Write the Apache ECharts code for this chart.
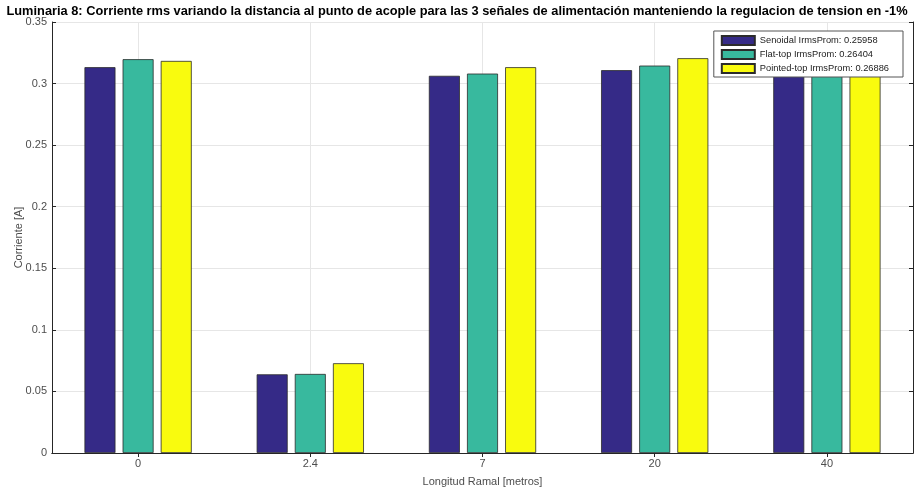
<!DOCTYPE html>
<html>
<head>
<meta charset="utf-8">
<script src="https://cdn.jsdelivr.net/npm/echarts@6/dist/echarts.min.js"></script>
<style>html,body{margin:0;padding:0;background:#fff;}#c{width:914px;height:489px;}</style>
</head>
<body>
<div id="c"></div>
<script>
const categories = ['0', '2.4', '7', '20', '40'];
const senoidal = [0.3133, 0.0639, 0.3063, 0.3109, 0.307];
const flatTop = [0.3198, 0.0642, 0.3081, 0.3146, 0.314];
const pointedTop = [0.3184, 0.0729, 0.3133, 0.3206, 0.319];
const seriesNames = ['Senoidal IrmsProm: 0.25958', 'Flat-top IrmsProm: 0.26404', 'Pointed-top IrmsProm: 0.26886'];
const colors = ['#352a87', '#38b99e', '#f9fb0e'];
const titleText = 'Luminaria 8: Corriente rms variando la distancia al punto de acople para las 3 señales de alimentación manteniendo la regulacion de tension en -1%';

const chart = echarts.init(document.getElementById('c'), null, {renderer: 'canvas'});
const font = 'Liberation Sans, Arial, sans-serif';
const axisLineColor = '#262626';
const gridColor = '#e6e6e6';
const labelColor = '#4d4d4d';

function barSeries(name, data, color, withGrid) {
  const s = {
    name: name, type: 'bar', data: data, barWidth: 31, barGap: '23%',
    z: 2,
    itemStyle: {color: color, borderColor: '#2b2b2b', borderWidth: 0.8},
    emphasis: {disabled: true}
  };
  if (withGrid) {
    s.markLine = {
      silent: true, symbol: 'none', z: 1, label: {show: false},
      lineStyle: {color: gridColor, type: 'solid', width: 1},
      data: categories.map(c => ({xAxis: c}))
    };
  }
  return s;
}

chart.setOption({
  animation: false,
  backgroundColor: '#ffffff',
  title: {
    text: titleText, left: 'center', top: 0,
    textStyle: {fontFamily: font, fontWeight: 'bold', fontSize: 12.8, color: '#000'}
  },
  grid: {left: 52, right: 1, top: 22, bottom: 36, outerBoundsMode: 'none', containLabel: false},
  legend: {
    orient: 'vertical', right: 11, top: 31,
    backgroundColor: '#ffffff', borderColor: '#555555', borderWidth: 1,
    padding: [4, 14, 3, 7], itemGap: 3, itemWidth: 33, itemHeight: 9, icon: 'rect',
    textStyle: {fontFamily: font, fontSize: 9.3, color: '#222'},
    selectedMode: false, z: 10
  },
  xAxis: [{
    type: 'category', data: categories, position: 'bottom',
    name: 'Longitud Ramal [metros]', nameLocation: 'middle', nameGap: 23,
    nameTextStyle: {fontFamily: font, fontSize: 11, color: labelColor},
    axisLine: {lineStyle: {color: axisLineColor}},
    axisTick: {show: true, inside: true, alignWithLabel: true, length: 4, lineStyle: {color: axisLineColor}},
    axisLabel: {fontFamily: font, fontSize: 11, color: labelColor, margin: 5},
    splitLine: {show: false}
  }, {
    type: 'category', data: categories, position: 'top',
    axisLine: {lineStyle: {color: axisLineColor}},
    axisTick: {show: true, inside: true, alignWithLabel: true, length: 4, lineStyle: {color: axisLineColor}},
    axisLabel: {show: false}, splitLine: {show: false}
  }],
  yAxis: [{
    type: 'value', min: 0, max: 0.35, interval: 0.05, position: 'left',
    name: 'Corriente [A]', nameLocation: 'middle', nameGap: 28, nameMoveOverlap: false,
    nameTextStyle: {fontFamily: font, fontSize: 11, color: labelColor},
    axisLine: {show: true, lineStyle: {color: axisLineColor}},
    axisTick: {show: true, inside: true, length: 4, lineStyle: {color: axisLineColor}},
    axisLabel: {fontFamily: font, fontSize: 11, color: labelColor, margin: 5},
    splitLine: {show: true, lineStyle: {color: gridColor, width: 1}}
  }, {
    type: 'value', min: 0, max: 0.35, interval: 0.05, position: 'right',
    axisLine: {show: true, lineStyle: {color: axisLineColor}},
    axisTick: {show: true, inside: true, length: 4, lineStyle: {color: axisLineColor}},
    axisLabel: {show: false}, splitLine: {show: false}
  }],
  series: [
    barSeries(seriesNames[0], senoidal, colors[0], false),
    barSeries(seriesNames[1], flatTop, colors[1], true),
    barSeries(seriesNames[2], pointedTop, colors[2], false)
  ]
});
</script>
</body>
</html>
